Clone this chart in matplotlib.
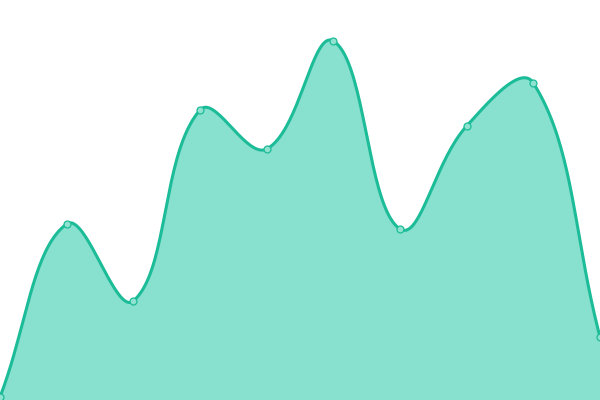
import numpy as np
import matplotlib
matplotlib.use("Agg")
import matplotlib.pyplot as plt

# values (bottom of the chart = 0, top = 400)
x_idx = [0, 1, 2, 3, 4, 5, 6, 7, 8, 9]
values = [3, 176, 99, 290, 251, 359, 171, 274, 317, 63]

LINE = "#1dbc98"
FILL = "#88e0cf"
W, H = 600, 400
TENSION = 0.4


def spline(px, py, tension=TENSION, steps=40):
    # distance-weighted bezier spline, control points kept inside the area
    pts = np.column_stack([px, py]).astype(float)
    n = len(pts)
    cp_in = np.zeros_like(pts)
    cp_out = np.zeros_like(pts)
    for i in range(n):
        prev = pts[i - 1] if i > 0 else pts[i]
        cur = pts[i]
        nxt = pts[i + 1] if i < n - 1 else pts[i]
        d01 = np.linalg.norm(cur - prev)
        d12 = np.linalg.norm(nxt - cur)
        tot = d01 + d12
        s01 = d01 / tot if tot else 0
        s12 = d12 / tot if tot else 0
        cp_in[i] = cur - tension * s01 * (nxt - prev)
        cp_out[i] = cur + tension * s12 * (nxt - prev)
    for cp in (cp_in, cp_out):
        cp[:, 0] = np.clip(cp[:, 0], 0, W)
        cp[:, 1] = np.clip(cp[:, 1], 0, H)
    t = np.linspace(0, 1, steps, endpoint=False)[:, None]
    out = []
    for i in range(n - 1):
        p1, c1, c2, p2 = pts[i], cp_out[i], cp_in[i + 1], pts[i + 1]
        out.append((1 - t) ** 3 * p1 + 3 * (1 - t) ** 2 * t * c1
                   + 3 * (1 - t) * t ** 2 * c2 + t ** 3 * p2)
    out.append(pts[-1:])
    out = np.vstack(out)
    return out[:, 0], out[:, 1]


xpix = np.array(x_idx) * W / (len(x_idx) - 1)
sx, sy = spline(xpix, np.array(values))

fig = plt.figure(figsize=(6, 4), dpi=100)
ax = fig.add_axes([0, 0, 1, 1])
ax.fill_between(sx, sy, 0, color=FILL, linewidth=0)
ax.plot(sx, sy, color=LINE, linewidth=2.2, solid_capstyle="round")
ax.plot(xpix, values, "o", markersize=5, markerfacecolor="#8fe2cf",
        markeredgecolor=LINE, markeredgewidth=0.9)
ax.set_xlim(0, W)
ax.set_ylim(0, H)
ax.axis("off")

fig.savefig("out.png", dpi=100)
